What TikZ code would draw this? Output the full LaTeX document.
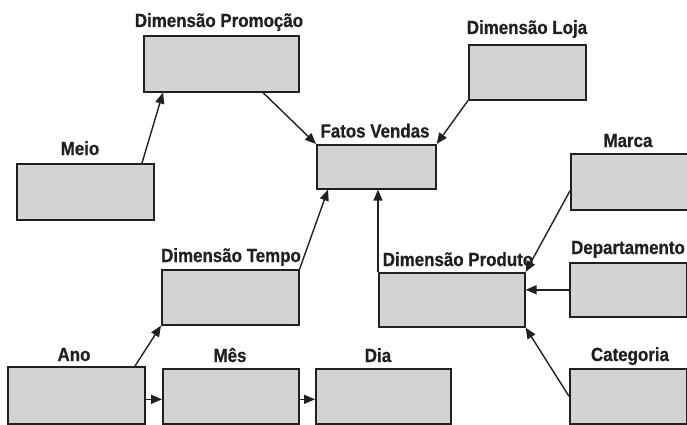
\documentclass[tikz,border=0pt]{standalone}
\usepackage{fontspec}
\setmainfont[FakeStretch=0.89,BoldFeatures={FakeBold=0.6}]{Liberation Sans}
\usetikzlibrary{arrows.meta,calc}
\definecolor{boxfill}{HTML}{D1D3D4}
\definecolor{ink}{HTML}{231F20}
\begin{document}
\begin{tikzpicture}[x=1pt,y=-1pt,
  box/.style={draw=ink,fill=boxfill,line width=1.6pt,rectangle,inner sep=0pt,anchor=north west},
  lbl/.style={anchor=base,inner sep=0pt,text=ink,font=\fontsize{19}{22}\selectfont\bfseries},
  arr/.style={draw=ink,line width=1.4pt,-{Triangle[length=11pt,width=9pt]}}]
\useasboundingbox (0,0) rectangle (687,425);
% boxes
\node[box,minimum width=155pt,minimum height=56pt] (promo) at (143,35) {};
\node[box,minimum width=137pt,minimum height=56pt] (meio) at (16,163) {};
\node[box,minimum width=119pt,minimum height=44pt] (fatos) at (316,144) {};
\node[box,minimum width=117pt,minimum height=55pt] (loja) at (468,44) {};
\node[box,minimum width=117pt,minimum height=56pt] (marca) at (570,153) {};
\node[box,minimum width=117pt,minimum height=54pt] (dep) at (569,262) {};
\node[box,minimum width=117pt,minimum height=55pt] (cat) at (569,368) {};
\node[box,minimum width=146pt,minimum height=54pt] (prod) at (378,272) {};
\node[box,minimum width=137pt,minimum height=55pt] (tempo) at (161,269) {};
\node[box,minimum width=137pt,minimum height=57pt] (ano) at (7,366) {};
\node[box,minimum width=136pt,minimum height=55pt] (mes) at (162,368) {};
\node[box,minimum width=135pt,minimum height=55pt] (dia) at (315,368) {};
% labels
\node[lbl] (tpromo) at (219,27) {Dimensão Promoção};
\node[lbl] (tmeio) at (80,155) {Meio};
\node[lbl] (tfatos) at (375,137.5) {Fatos Vendas};
\node[lbl] (tloja) at (527,34) {Dimensão Loja};
\node[lbl] (tmarca) at (628,147) {Marca};
\node[lbl] (tdep) at (628,254) {Departamento};
\node[lbl] (tcat) at (630,361) {Categoria};
\node[lbl] (tprod) at (458,266) {Dimensão Produto};
\node[lbl] (ttempo) at (231,262) {Dimensão Tempo};
\node[lbl] (tano) at (74,361) {Ano};
\node[lbl] (tmes) at (230,362) {Mês};
\node[lbl] (tdia) at (378,362) {Dia};
% connectors
\draw[arr] ([xshift=126pt]meio.north west) -- ([xshift=20pt]promo.south west);
\draw[arr] ([xshift=120pt]promo.south west) -- (fatos.north west);
\draw[arr] (loja.south west) -- (fatos.north east);
\draw[arr] (tempo.north east) -- ([xshift=12pt]fatos.south west);
\draw[arr] (prod.north west) -- (prod.north west |- fatos.south);
\draw[arr] ([yshift=-9pt]marca.west) -- (prod.north east);
\draw[arr] (dep.west) -- (dep.west -| prod.east);
\draw[arr] (cat.west) -- (prod.south east);
\draw[arr] ([xshift=128pt]ano.north west) -- (tempo.south west);
\draw[arr] ([yshift=-4pt]ano.east) -- ([yshift=-4pt]ano.east -| mes.west);
\draw[arr] ([yshift=-3pt]mes.east) -- ([yshift=-3pt]mes.east -| dia.west);
\end{tikzpicture}
\end{document}
